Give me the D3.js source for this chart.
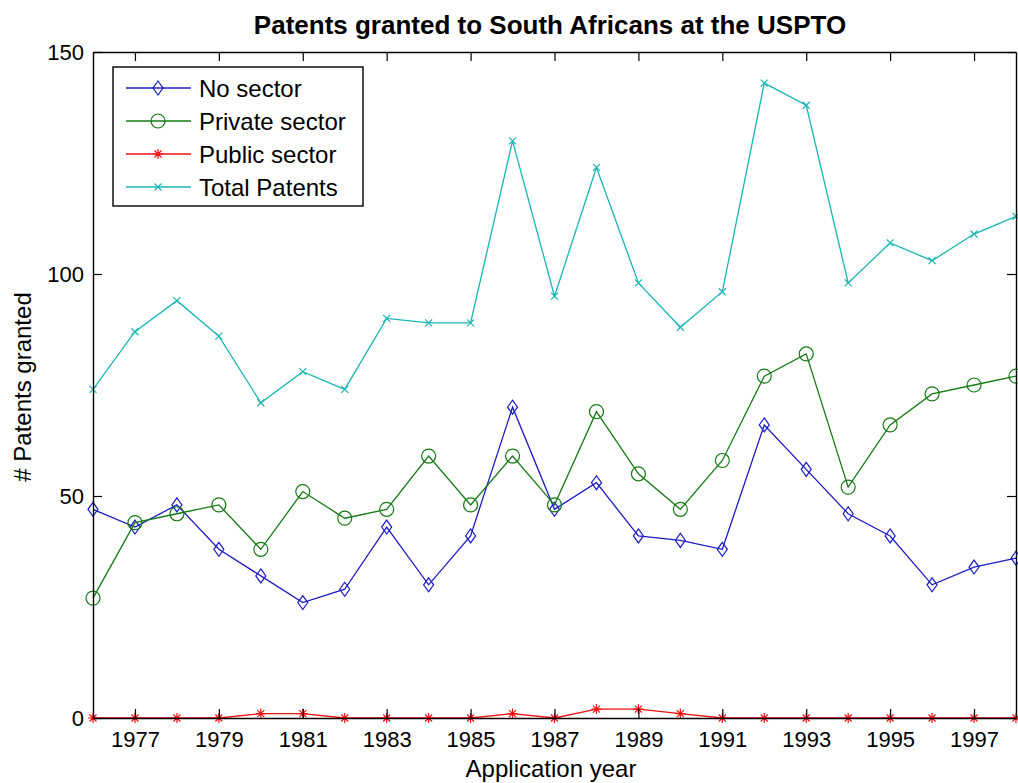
<!DOCTYPE html>
<html>
<head>
<meta charset="utf-8">
<script src="https://cdn.jsdelivr.net/npm/d3@7"></script>
<style>
	body { margin: 0; background: #fff; }
	text { font-family: "Liberation Sans", Arial, sans-serif; fill: #000; }
</style>
</head>
<body>
<svg id="chart" width="1018" height="783"></svg>
<script>
// application years on the x axis
var years = [1976, 1977, 1978, 1979, 1980, 1981, 1982, 1983, 1984, 1985, 1986, 1987,
	1988, 1989, 1990, 1991, 1992, 1993, 1994, 1995, 1996, 1997, 1998];

var noSector = [47, 43, 48, 38, 32, 26, 29, 43, 30, 41, 70, 47, 53, 41, 40, 38, 66, 56, 46, 41, 30, 34, 36];
var privateSector = [27, 44, 46, 48, 38, 51, 45, 47, 59, 48, 59, 48, 69, 55, 47, 58, 77, 82, 52, 66, 73, 75, 77];
var publicSector = [0, 0, 0, 0, 1, 1, 0, 0, 0, 0, 1, 0, 2, 2, 1, 0, 0, 0, 0, 0, 0, 0, 0];
var totalPatents = [74, 87, 94, 86, 71, 78, 74, 90, 89, 89, 130, 95, 124, 98, 88, 96, 143, 138, 98, 107, 103, 109, 113];

var xTicks = [1977, 1979, 1981, 1983, 1985, 1987, 1989, 1991, 1993, 1995, 1997];
var yTicks = [0, 50, 100, 150];

var series = [
	{ name: "No sector", values: noSector, color: "#1c1cc4", marker: "diamond" },
	{ name: "Private sector", values: privateSector, color: "#157a15", marker: "circle" },
	{ name: "Public sector", values: publicSector, color: "#ee1111", marker: "star" },
	{ name: "Total Patents", values: totalPatents, color: "#1ab5b5", marker: "cross" }
];

// plot box (note: "top" clashes with window.top)
var mLeft = 93, mRight = 1016, mTop = 52, mBottom = 718;

var svg = d3.select("#chart");

var x = d3.scaleLinear()
	.domain([1976, 1998])
	.range([mLeft, mRight]);

var y = d3.scaleLinear()
	.domain([0, 150])
	.range([mBottom, mTop]);

// marker shapes, roughly matlab sized
function markerPath(type) {
	if (type == "diamond") return "M0,-7L5,0L0,7L-5,0Z";
	if (type == "circle") return "M7,0A7,7 0 1,1 -7,0A7,7 0 1,1 7,0Z";
	if (type == "star") return "M0,-5V5M-5,0H5M-3.5,-3.5L3.5,3.5M-3.5,3.5L3.5,-3.5";
	return "M-3.5,-3.5L3.5,3.5M-3.5,3.5L3.5,-3.5";
}

var line = d3.line()
	.x(function(d, i) { return x(years[i]); })
	.y(function(d) { return y(d); });

var plot = svg.append("g").attr("class", "series");

series.forEach(function(s) {
	var g = plot.append("g");

	g.append("path")
		.attr("d", line(s.values))
		.attr("fill", "none")
		.attr("stroke", s.color)
		.attr("stroke-width", 1.3);

	g.selectAll(".mk")
		.data(s.values)
		.enter()
		.append("path")
		.attr("class", "mk")
		.attr("transform", function(d, i) {
			return "translate(" + x(years[i]) + "," + y(d) + ")";
		})
		.attr("d", markerPath(s.marker))
		.attr("fill", "none")
		.attr("stroke", s.color)
		.attr("stroke-width", 1.2);
});

// axes box with inward ticks
var axisStyle = function(g) {
	g.selectAll("path").attr("stroke", "#000").attr("stroke-width", 1.4);
	g.selectAll("line").attr("stroke", "#000").attr("stroke-width", 1.2);
	g.selectAll("text")
		.style("font-family", "'Liberation Sans', Arial, sans-serif")
		.style("font-size", "22px")
		.attr("fill", "#000");
};

svg.append("g")
	.attr("transform", "translate(0," + mBottom + ")")
	.call(d3.axisBottom(x).tickValues(xTicks).tickFormat(d3.format("d")).tickSizeInner(-9).tickSizeOuter(0).tickPadding(13))
	.call(axisStyle);

svg.append("g")
	.attr("transform", "translate(0," + mTop + ")")
	.call(d3.axisTop(x).tickValues(xTicks).tickFormat("").tickSizeInner(-9).tickSizeOuter(0))
	.call(axisStyle);

svg.append("g")
	.attr("transform", "translate(" + mLeft + ",0)")
	.call(d3.axisLeft(y).tickValues(yTicks).tickSizeInner(-9).tickSizeOuter(0).tickPadding(9))
	.call(axisStyle);

svg.append("g")
	.attr("transform", "translate(" + mRight + ",0)")
	.call(d3.axisRight(y).tickValues(yTicks).tickFormat("").tickSizeInner(-9).tickSizeOuter(0))
	.call(axisStyle);

svg.selectAll(".domain").attr("fill", "none");

// title and axis labels
svg.append("text")
	.attr("x", 550)
	.attr("y", 34)
	.attr("text-anchor", "middle")
	.style("font-size", "26px")
	.style("font-weight", "bold")
	.text("Patents granted to South Africans at the USPTO");

svg.append("text")
	.attr("x", 551)
	.attr("y", 777)
	.attr("text-anchor", "middle")
	.style("font-size", "24px")
	.text("Application year");

svg.append("text")
	.attr("transform", "translate(31,387) rotate(-90)")
	.attr("text-anchor", "middle")
	.style("font-size", "24px")
	.text("# Patents granted");

// legend
var legend = svg.append("g").attr("class", "legend");

legend.append("rect")
	.attr("x", 113)
	.attr("y", 67)
	.attr("width", 250)
	.attr("height", 139)
	.attr("fill", "#fff")
	.attr("stroke", "#000")
	.attr("stroke-width", 1.4);

var items = legend.selectAll(".item")
	.data(series)
	.enter()
	.append("g")
	.attr("class", "item")
	.attr("transform", function(d, i) { return "translate(0," + (88 + i * 33) + ")"; });

items.append("line")
	.attr("x1", 126)
	.attr("x2", 191)
	.attr("stroke", function(d) { return d.color; })
	.attr("stroke-width", 1.3);

items.append("path")
	.attr("transform", "translate(158,0)")
	.attr("d", function(d) { return markerPath(d.marker); })
	.attr("fill", "none")
	.attr("stroke", function(d) { return d.color; })
	.attr("stroke-width", 1.2);

items.append("text")
	.attr("x", 199)
	.attr("y", 9)
	.style("font-size", "24px")
	.text(function(d) { return d.name; });
</script>
</body>
</html>
